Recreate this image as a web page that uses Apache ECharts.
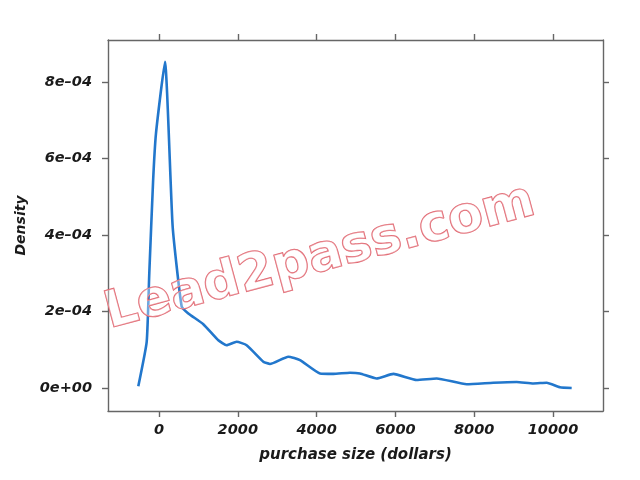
<!DOCTYPE html>
<html><head><meta charset="utf-8">
<script src="https://cdn.jsdelivr.net/npm/echarts@6/dist/echarts.min.js"></script>
<style>html,body{margin:0;padding:0;background:#fff}#c{width:640px;height:480px}</style>
</head><body><div id="c"></div>
<script>
const purchaseSize = [-525,-312,-246,-150,-76,152,347,576,744,1125,1506,1717,1971,2225,2648,2817,3282,3579,4086,4424,4848,5101,5525,5948,6540,7048,7810,8484,9078,9500,9840,10177,10474];
const density = [0.05e-4,1.21e-4,3.0e-4,5.4e-4,6.66e-4,8.53e-4,4.22e-4,2.13e-4,1.95e-4,1.67e-4,1.25e-4,1.12e-4,1.21e-4,1.12e-4,0.69e-4,0.63e-4,0.82e-4,0.73e-4,0.38e-4,0.37e-4,0.40e-4,0.38e-4,0.25e-4,0.37e-4,0.21e-4,0.25e-4,0.10e-4,0.14e-4,0.16e-4,0.12e-4,0.14e-4,0.02e-4,0.0];
const xTicks = [0,2000,4000,6000,8000,10000];
const yTicks = [0,2e-4,4e-4,6e-4,8e-4];
const yTickLabels = ['0e+00','2e\u201304','4e\u201304','6e\u201304','8e\u201304'];

const labelFont = {fontFamily:'DejaVu Sans, sans-serif', fontWeight:'bold', fontStyle:'italic', fontSize:14.5, color:'#1a1a1a'};
const lineStyle = {color:'#666', width:1.4};
const chart = echarts.init(document.getElementById('c'));
const xRange = {min:-1294, max:11269};
const yRange = {min:-0.6e-4, max:9.1e-4};
chart.setOption({
  animation:false,
  grid:{left:108,right:37,top:40,bottom:69,containLabel:false},
  xAxis:[
    {type:'value',...xRange,position:'bottom',splitLine:{show:false},
     axisLine:{show:true,onZero:false,lineStyle},
     axisTick:{show:true,inside:false,length:6,lineStyle,customValues:xTicks},
     axisLabel:{...labelFont,margin:12,customValues:xTicks,formatter:v=>String(v)},
     name:'purchase size (dollars)',nameLocation:'middle',nameGap:37,nameTextStyle:{...labelFont,fontSize:15}},
    {type:'value',...xRange,position:'top',splitLine:{show:false},
     axisLine:{show:true,onZero:false,lineStyle},
     axisTick:{show:true,inside:false,length:6,lineStyle,customValues:xTicks},
     axisLabel:{show:false}}
  ],
  yAxis:[
    {type:'value',...yRange,position:'left',splitLine:{show:false},
     axisLine:{show:true,onZero:false,lineStyle},
     axisTick:{show:true,inside:false,length:6,lineStyle,customValues:yTicks},
     axisLabel:{...labelFont,margin:16,customValues:yTicks,formatter:v=>{const i=yTicks.findIndex(t=>Math.abs(t-v)<1e-9);return i>=0?yTickLabels[i]:'';}},
     name:'Density',nameLocation:'middle',nameGap:79,nameRotate:90,nameTextStyle:{...labelFont,fontSize:14}},
    {type:'value',...yRange,position:'right',splitLine:{show:false},
     axisLine:{show:true,onZero:false,lineStyle},
     axisTick:{show:true,inside:false,length:6,lineStyle,customValues:yTicks},
     axisLabel:{show:false}}
  ],
  series:[{type:'line',data:purchaseSize.map((x,i)=>[x,density[i]]),showSymbol:false,smooth:0.15,
    lineStyle:{color:'#2277cc',width:2.6},z:3}],
  graphic:[{type:'text',x:320,y:258,rotation:15*Math.PI/180,z:10,
    style:{text:'Lead2pass.com',font:'bold 51px "DejaVu Sans", sans-serif',fill:'rgba(255,255,255,0.35)',stroke:'#e0636d',lineWidth:1.3,align:'center',verticalAlign:'middle'}}]
});
</script></body></html>
